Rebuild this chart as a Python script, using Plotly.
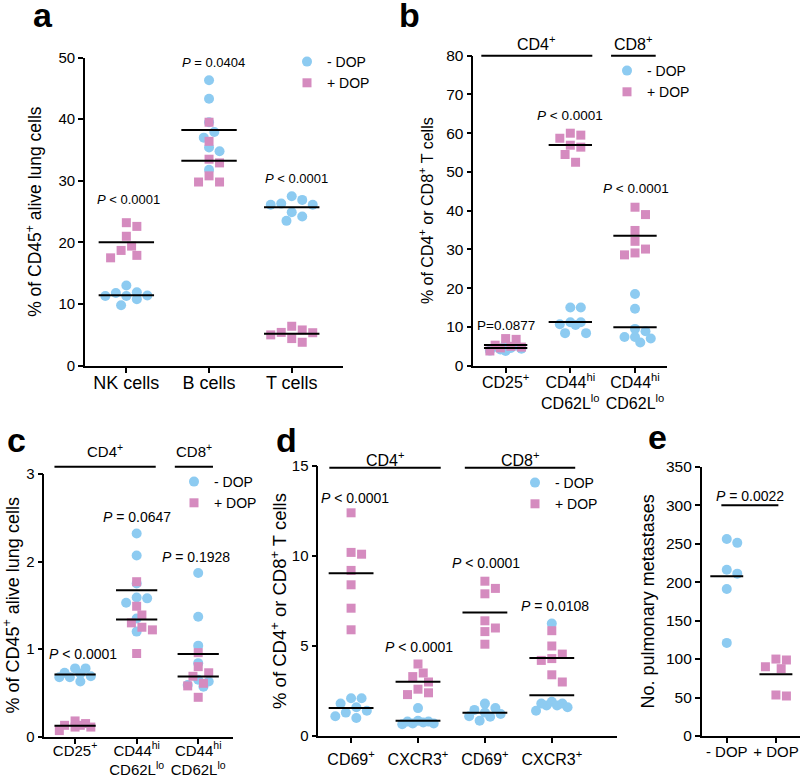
import numpy as np
import plotly.graph_objects as go

FONT = "Liberation Sans, Arial, sans-serif"
BLUE = "#8dcbf1"
PINK = "#d58bbf"
W, H = 800, 776

# ---------------- data ----------------
# a: % of CD45+ alive lung cells
a_ticks = ["NK cells", "B cells", "T cells"]
a_minus = [[11.4, 11.9, 11.3, 11.8, 9.8, 13.0, 10.8, 11.3],
           [46.3, 43.3, 39.5, 37.9, 37.0, 35.4, 34.8, 31.8],
           [26.1, 26.9, 26.1, 26.3, 27.5, 24.9, 23.5, 24.2]]
a_plus = [[22.6, 23.2, 21.0, 18.7, 19.4, 17.5, 17.9],
          [39.5, 36.4, 32.9, 33.5, 30.8, 29.8, 29.8],
          [5.4, 5.0, 6.4, 3.8, 4.4, 5.35, 5.8]]
a_p = ["<i>P</i> &lt; 0.0001", "<i>P</i> = 0.0404", "<i>P</i> &lt; 0.0001"]

# b: % of CD4+ or CD8+ T cells
b_ticks = ["CD25<sup>+</sup>", "CD44<sup>hi</sup><br>CD62L<sup>lo</sup>",
           "CD44<sup>hi</sup><br>CD62L<sup>lo</sup>"]
b_minus = [[5.6, 5.2, 4.9, 4.6, 4.4, 4.2, 3.9, 3.8],
           [15.0, 15.0, 10.7, 11.2, 11.2, 10.5, 8.4, 8.4],
           [18.5, 14.7, 8.9, 9.5, 7.4, 6.0, 7.0, 7.4]]
b_plus = [[7.0, 6.8, 5.3, 5.0, 4.8, 4.6, 3.8],
          [59.5, 60.0, 58.7, 56.9, 56.4, 54.5, 52.5],
          [40.9, 39.0, 34.9, 32.1, 30.1, 28.6, 29.1]]
b_p = ["P=0.0877", "<i>P</i> &lt; 0.0001", "<i>P</i> &lt; 0.0001"]

# c: % of CD45+ alive lung cells
c_ticks = b_ticks
c_minus = [[0.73, 0.69, 0.78, 0.78, 0.68, 0.63, 0.68, 0.72],
           [2.32, 2.07, 1.75, 1.59, 1.53, 1.58, 1.35, 1.20],
           [1.87, 1.37, 1.04, 0.84, 0.65, 0.59, 0.57, 0.63]]
c_plus = [[0.18, 0.13, 0.11, 0.07, 0.11, 0.13, 0.15],
          [1.77, 1.49, 1.39, 1.30, 1.22, 1.25, 0.95],
          [0.96, 0.80, 0.73, 0.69, 0.61, 0.58, 0.45]]
c_p = ["<i>P</i> &lt; 0.0001", "<i>P</i> = 0.0647", "<i>P</i> = 0.1928"]

# d: % of CD4+ or CD8+ T cells
d_ticks = ["CD69<sup>+</sup>", "CXCR3<sup>+</sup>", "CD69<sup>+</sup>", "CXCR3<sup>+</sup>"]
d_minus = [[2.1, 2.1, 1.8, 1.6, 1.4, 1.3, 1.0, 1.1],
           [1.55, 0.85, 0.8, 0.75, 0.7, 0.65, 0.7, 0.8],
           [1.3, 1.55, 1.45, 1.8, 1.1, 1.07, 1.22, 0.85],
           [6.25, 1.9, 1.8, 1.7, 1.6, 1.7, 1.8, 1.4]]
d_plus = [[12.4, 10.1, 10.2, 9.2, 8.4, 7.1, 5.9],
          [4.0, 3.3, 3.5, 3.0, 2.6, 2.3, 2.4],
          [8.6, 8.2, 7.9, 6.4, 6.0, 5.8, 5.1],
          [5.85, 5.0, 4.55, 4.2, 4.3, 3.4, 3.0]]
d_p = ["<i>P</i> &lt; 0.0001", "<i>P</i> &lt; 0.0001", "<i>P</i> &lt; 0.0001", "<i>P</i> = 0.0108"]

# e: No. pulmonary metastases
e_ticks = ["- DOP", "+ DOP"]
e_minus = [256, 251, 211, 216, 191, 121]
e_plus = [100, 90, 87.5, 98.8, 52, 53.3]
e_p = "<i>P</i> = 0.0022"

# ---------------- panel geometry (pixels) ----------------
geo = {
    "a": dict(x=(85, 343), y=(57.5, 365.7), xr=(-0.5, 2.62), yr=(0, 50), dt=10),
    "b": dict(x=(473.3, 666.7), y=(55.7, 365.7), xr=(-0.5, 2.49), yr=(0, 80), dt=10),
    "c": dict(x=(44.3, 233.3), y=(474, 736.7), xr=(-0.5, 2.57), yr=(0, 3), dt=1),
    "d": dict(x=(318.3, 616.7), y=(466, 736), xr=(-0.49, 3.97), yr=(0, 15), dt=5),
    "e": dict(x=(701.7, 800), y=(466.7, 736), xr=(-0.51, 1.49), yr=(0, 350), dt=50),
}


def swarm(vals, ppx, ppy, d=10.5, cap=0.27):
    # simple beeswarm (x offsets in category units), width capped like Prism
    vals = np.asarray(vals, float)
    order = np.argsort(-vals, kind="stable")
    step = d / 2
    kmax = max(1, int(cap * ppx / step))
    cands = [0.0] + [s * k * step for k in range(1, kmax + 1) for s in (1, -1)]
    placed = []
    offs = np.zeros(len(vals))
    for i in order:
        y = vals[i] * ppy
        best, bestd = 0.0, -1
        for c in cands:
            md = min([np.hypot(c - px, y - py) for px, py in placed] or [1e9])
            if md >= d * 0.96:
                best = c
                break
            if md > bestd:
                best, bestd = c, md
        placed.append((best, y))
        offs[i] = best / ppx
    return offs


fig = go.Figure()


def add_panel(n, key, groups, legend=None):
    g = geo[key]
    ppx = (g["x"][1] - g["x"][0]) / (g["xr"][1] - g["xr"][0])
    ppy = (g["y"][1] - g["y"][0]) / (g["yr"][1] - g["yr"][0])
    sx = "" if n == 1 else str(n)
    mx, my = [], []
    for name, sym, col, size, sets in groups:
        xs, ys = [], []
        for cat, vals in sets:
            xs += list(cat + swarm(vals, ppx, ppy))
            ys += list(vals)
            m = float(np.mean(vals))
            mx += [cat - 0.335, cat + 0.335, None]
            my += [m, m, None]
        fig.add_trace(go.Scatter(
            x=xs, y=ys, mode="markers", name=name, xaxis="x" + sx, yaxis="y" + sx,
            marker=dict(symbol=sym, color=col, size=size, line=dict(width=0)),
            cliponaxis=False, showlegend=legend is not None,
            legend=legend if legend else "legend", hoverinfo="y"))
    fig.add_trace(go.Scatter(x=mx, y=my, mode="lines", xaxis="x" + sx, yaxis="y" + sx,
                             line=dict(color="black", width=2), showlegend=False,
                             hoverinfo="skip"))


def series(minus, plus):
    return [("- DOP", "circle", BLUE, 10, list(enumerate(minus))),
            ("+ DOP", "square", PINK, 9, list(enumerate(plus)))]


add_panel(1, "a", series(a_minus, a_plus), "legend")
add_panel(2, "b", series(b_minus, b_plus), "legend2")
add_panel(3, "c", series(c_minus, c_plus), "legend3")
add_panel(4, "d", series(d_minus, d_plus), "legend4")
add_panel(5, "e", [("- DOP", "circle", BLUE, 10, [(0, e_minus)]),
                   ("+ DOP", "square", PINK, 9, [(1, e_plus)])])

layout = dict(width=W, height=H, margin=dict(l=0, r=0, t=0, b=0, autoexpand=False),
              paper_bgcolor="white", plot_bgcolor="white",
              font=dict(family=FONT, color="black"))

# title, title size, y tick size, x tick size, title standoff, x label shift
ystyle = {
    "a": ("% of CD45<sup>+</sup> alive lung cells", 17.5, 15, 18, 12, -5),
    "b": ("% of CD4<sup>+</sup> or CD8<sup>+</sup> T cells", 16, 15.5, 16, 9, -4),
    "c": ("% of CD45<sup>+</sup> alive lung cells", 18, 15, 15, 12, -6),
    "d": ("% of CD4<sup>+</sup> or CD8<sup>+</sup> T cells", 18.5, 15, 16, 0, 3),
    "e": ("No. pulmonary metastases", 18, 15.5, 15, 7, -4),
}
ticks = {"a": a_ticks, "b": b_ticks, "c": c_ticks, "d": d_ticks, "e": e_ticks}

for n, key in enumerate("abcde", start=1):
    g = geo[key]
    sx = "" if n == 1 else str(n)
    title, tsize, yfs, xfs, stand, xshift = ystyle[key]
    axis = dict(showline=True, linecolor="black", linewidth=1.6, ticks="outside",
                ticklen=5, tickwidth=1.6, tickcolor="black", showgrid=False,
                zeroline=False, fixedrange=True, automargin=False)
    layout["xaxis" + sx] = dict(axis, domain=[g["x"][0] / W, g["x"][1] / W],
                                range=list(g["xr"]), anchor="y" + sx,
                                tickvals=list(range(len(ticks[key]))), ticktext=ticks[key],
                                tickfont=dict(size=xfs), ticklabelstandoff=xshift)
    layout["yaxis" + sx] = dict(axis, domain=[1 - g["y"][1] / H, 1 - g["y"][0] / H],
                                range=list(g["yr"]), anchor="x" + sx, tick0=0, dtick=g["dt"],
                                tickfont=dict(size=yfs),
                                title=dict(text=title, font=dict(size=tsize), standoff=stand))

leg = dict(font=dict(family=FONT, size=14, color="black"), bgcolor="rgba(0,0,0,0)",
           xanchor="left", yanchor="top", itemwidth=30, tracegroupgap=0)
layout["legend"] = dict(leg, x=287 / W, y=1 - 46 / H)
layout["legend2"] = dict(leg, x=607 / W, y=1 - 55 / H)
layout["legend3"] = dict(leg, x=174 / W, y=1 - 466 / H)
layout["legend4"] = dict(leg, x=515 / W, y=1 - 467 / H)

ann = []


def note(text, xref, yref, x, y, size):
    ann.append(dict(text=text, xref=xref, yref=yref, x=x, y=y, showarrow=False,
                    xanchor="center", yanchor="middle",
                    font=dict(family=FONT, size=size, color="black")))


# panel letters
for letter, px, py in [("a", 43, 15), ("b", 410, 15), ("c", 16, 440), ("d", 286, 440), ("e", 657, 437)]:
    note("<b>%s</b>" % letter, "paper", "paper", px / W, 1 - py / H, 34)

# P values
for i, (t, dx, y) in enumerate(zip(a_p, [0.03, 0.05, 0.06], [26.9, 49.2, 30.3])):
    note(t, "x", "y", i + dx, y, 13)
for i, (t, dx, y) in enumerate(zip(b_p, [0.01, 0.0, 0.02], [10.5, 64.5, 45.7])):
    note(t, "x2", "y2", i + dx, y, 13.5)
for i, (t, dx, y) in enumerate(zip(c_p, [0.13, 0.0, -0.03], [0.944, 2.505, 2.055])):
    note(t, "x3", "y3", i + dx, y, 14)
for i, (t, dx, y) in enumerate(zip(d_p, [0.06, 0.01, 0.01, 0.05], [13.2, 4.96, 9.6, 7.2])):
    note(t, "x4", "y4", i + dx, y, 14)
note(e_p, "x5", "y5", 0.47, 312, 14)

shapes = [dict(type="line", xref="x5", yref="y5", x0=-0.11, x1=1.05, y0=300, y1=300,
               line=dict(color="black", width=2))]


# CD4+/CD8+ group brackets above panels b, c, d
def bracket(n, key, label, c0, c1, ypx, ytxt, size):
    g = geo[key]
    span = g["xr"][1] - g["xr"][0]
    shapes.append(dict(type="line", xref="x%d domain" % n, yref="paper",
                       x0=(c0 - g["xr"][0]) / span, x1=(c1 - g["xr"][0]) / span,
                       y0=1 - ypx / H, y1=1 - ypx / H, line=dict(color="black", width=2)))
    note(label, "x%d" % n, "paper", (c0 + c1) / 2, 1 - ytxt / H, size)


bracket(2, "b", "CD4<sup>+</sup>", -0.376, 1.34, 55.7, 42.7, 16)
bracket(2, "b", "CD8<sup>+</sup>", 1.63, 2.32, 55.7, 42.7, 16)
bracket(3, "c", "CD4<sup>+</sup>", -0.335, 1.31, 466.7, 450, 15)
bracket(3, "c", "CD8<sup>+</sup>", 1.62, 2.24, 466.7, 450, 15)
bracket(4, "d", "CD4<sup>+</sup>", -0.325, 1.34, 467.7, 459, 16)
bracket(4, "d", "CD8<sup>+</sup>", 1.70, 3.35, 467.7, 459, 16)

layout["annotations"] = ann
layout["shapes"] = shapes
fig.update_layout(layout)
fig.write_html("out.html", config={"displayModeBar": False},
               post_script="document.body.style.margin='0';document.body.style.overflow='hidden';")
